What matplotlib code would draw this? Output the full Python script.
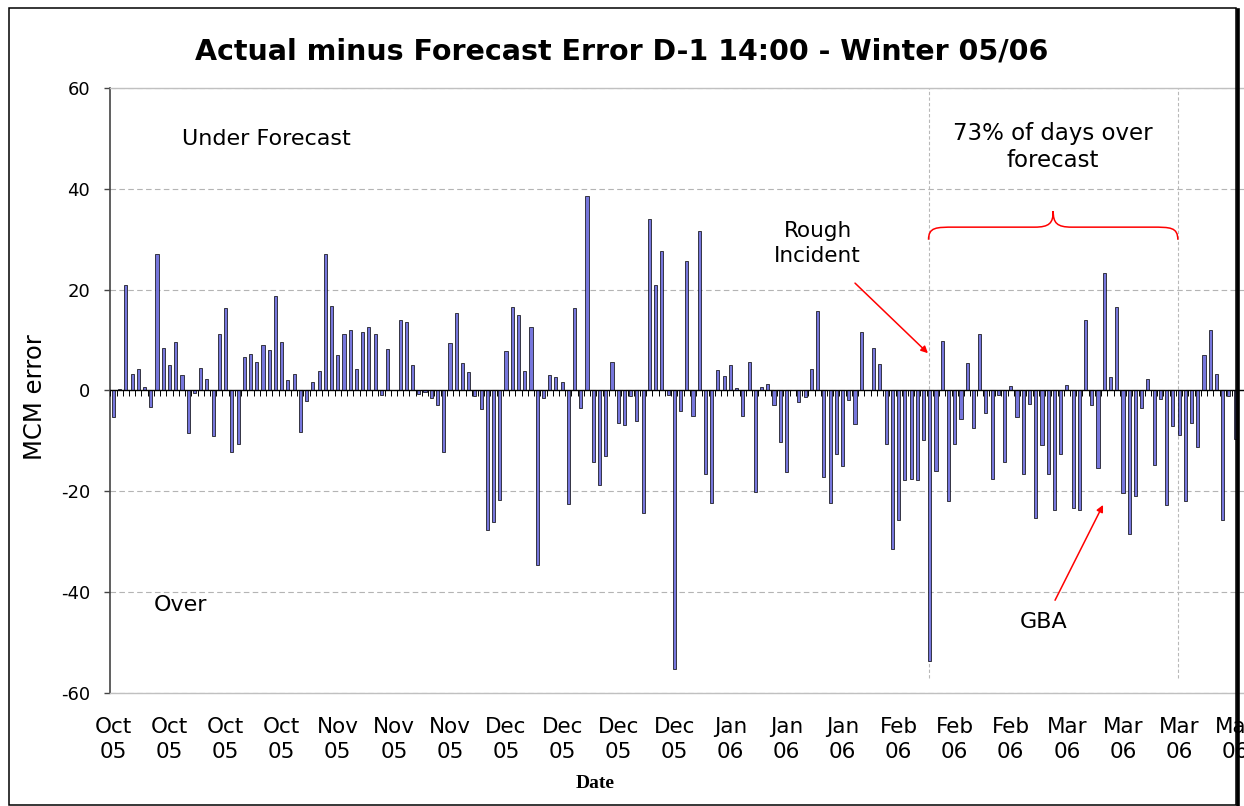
import numpy as np
import pandas as pd
import matplotlib
matplotlib.use("Agg")
import matplotlib.pyplot as plt
from matplotlib.path import Path
from matplotlib.patches import PathPatch, Rectangle
from matplotlib.lines import Line2D

plt.rcParams["axes.unicode_minus"] = False

# daily actual minus forecast (MCM), Oct 1 2005 onwards
start_date = "2005-10-01"
errors = [
    -5.2, 0.3, 20.9, 3.3, 4.2, 0.6, -3.3, 27.0, 8.4, 5.0,
    9.7, 3.1, -8.4, -0.5, 4.5, 2.3, -9.1, 11.2, 16.4, -12.1,
    -10.7, 6.6, 7.3, 5.7, 9.1, 8.0, 18.7, 9.7, 2.1, 3.3,
    -8.3, -2.0, 1.7, 3.9, 27.0, 16.8, 7.1, 11.3, 12.0, 4.3,
    11.7, 12.6, 11.2, -0.8, 8.3, 0.0, 13.9, 13.6, 5.0, -0.7,
    -0.3, -1.5, -2.8, -12.1, 9.5, 15.3, 5.4, 3.7, -1.1, -3.7,
    -27.6, -26.1, -21.7, 7.9, 16.5, 15.0, 3.9, 12.5, -34.6, -1.5,
    3.1, 2.7, 1.6, -22.5, 16.3, -3.4, 38.6, -14.1, -18.8, -13.0,
    5.7, -6.4, -6.9, -1.0, -6.0, -24.2, 34.1, 20.9, 27.7, -0.9,
    -55.3, -4.1, 25.6, -5.0, 31.6, -16.5, -22.3, 4.1, 2.9, 5.0,
    0.5, -5.1, 5.7, -20.2, 0.6, 1.2, -2.8, -10.2, -16.1, 0.0,
    -2.3, -1.3, 4.3, 15.8, -17.1, -22.3, -12.6, -15.0, -1.8, -6.6,
    11.7, 0.0, 8.4, 5.3, -10.7, -31.4, -25.7, -17.8, -17.6, -17.8,
    -9.9, -53.6, -15.9, 9.8, -21.9, -10.6, -5.7, 5.4, -7.5, 11.2,
    -4.5, -17.6, -0.9, -14.1, 0.9, -5.2, -16.5, -2.7, -25.2, -10.9,
    -16.5, -23.7, -12.5, 1.1, -23.3, -23.7, 13.9, -2.8, -15.3, 23.3,
    2.7, 16.5, -20.4, -28.5, -21.0, -3.5, 2.3, -14.8, -1.6, -22.7,
    -7.1, -8.8, -21.9, -6.4, -11.3, 7.1, 12.0, 3.3, -25.6, -1.1,
    -9.7,
]
label_step = 9
period_marks = [130.8, 170.8]   # dashed lines bounding the 73% period

days = np.arange(len(errors))
dates = pd.date_range(start_date, periods=len(errors), freq="D")
tick_days = days[::label_step]
tick_labels = [d.strftime("%b\n%y") for d in dates[::label_step]]

W, H = 1244, 806
fig = plt.figure(figsize=(W / 100, H / 100), dpi=100)
ax = fig.add_axes([110 / W, 1 - 693 / H, (1244.5 - 110) / W, (693 - 88) / H])

ax.bar(days, errors, width=0.5, color="#7676dc", edgecolor="black",
       linewidth=0.5, zorder=3)
ax.axhline(0, color="black", lw=1.0, zorder=4)
edges = np.arange(len(errors) + 1) - 0.5
ax.vlines(edges, -1.0, 0, color="black", lw=0.7, zorder=4)

ax.set_xlim(-0.55, 181.5)
ax.set_ylim(-60, 60)
ax.set_yticks(range(-60, 61, 20))
ax.yaxis.grid(True, color="#b4b4b4", linestyle=(0, (5, 3)), lw=0.8)
ax.set_axisbelow(True)

ax.vlines(period_marks, -57, 60, colors="#b8b8b8", linestyles=(0, (3, 2)),
          lw=0.8, zorder=1)

for s in ["top", "bottom"]:
    ax.spines[s].set_color("#c0c0c0")
    ax.spines[s].set_linewidth(1.0)
ax.spines["right"].set_visible(False)
ax.spines["left"].set_color("#444444")
ax.spines["left"].set_linewidth(1.2)

ax.tick_params(axis="y", length=4.3, width=1, color="#444444",
               labelsize=13, pad=10)
ax.set_xticks(tick_days, tick_labels)
ax.tick_params(axis="x", length=0, labelsize=15.5, pad=17)
for lbl in ax.get_xticklabels():
    lbl.set_linespacing(1.35)

fig.text(622 / W, 1 - 51 / H, "Actual minus Forecast Error D-1 14:00 - Winter 05/06",
         ha="center", va="center", fontsize=20.5, weight="bold")
fig.text(35 / W, 1 - 397 / H, "MCM error", rotation=90, ha="center",
         va="center", fontsize=17.5)
fig.text(595 / W, 1 - 783 / H, "Date", ha="center", va="center",
         fontsize=14, weight="bold", family="Liberation Serif")

ax.text(24.5, 49.9, "Under Forecast", ha="center", va="center", fontsize=16)
ax.text(10.8, -42.5, "Over", ha="center", va="center", fontsize=16)
ax.text(113.0, 29.2, "Rough\nIncident", ha="center", va="center",
        fontsize=15.5, linespacing=1.3)
ax.text(150.8, 48.3, "73% of days over\nforecast", ha="center", va="center",
        fontsize=16.5, linespacing=1.2)
ax.text(149.2, -45.9, "GBA", ha="center", va="center", fontsize=16)

arrow = dict(arrowstyle="-|>", color="red", lw=1.1, mutation_scale=10,
             shrinkA=0, shrinkB=0)
ax.annotate("", xy=(130.7, 7.4), xytext=(119.0, 21.3), arrowprops=arrow)
ax.annotate("", xy=(158.8, -22.7), xytext=(151.1, -41.6), arrowprops=arrow)

# curly brace over the period
x0, x1 = period_marks
xm = (x0 + x1) / 2
yb, yh, yp = 29.9, 32.4, 35.6
verts = [(x0, yb), (x0, yh), (x0 + 1.2, yh), (x0 + 4.2, yh),
         (xm - 3.0, yh),
         (xm - 0.6, yh), (xm, yh + 0.8), (xm, yp),
         (xm, yh + 0.8), (xm + 0.6, yh), (xm + 3.0, yh),
         (x1 - 4.2, yh),
         (x1 - 1.2, yh), (x1, yh), (x1, yb)]
codes = [Path.MOVETO, Path.CURVE4, Path.CURVE4, Path.CURVE4,
         Path.LINETO,
         Path.CURVE4, Path.CURVE4, Path.CURVE4,
         Path.CURVE4, Path.CURVE4, Path.CURVE4,
         Path.LINETO,
         Path.CURVE4, Path.CURVE4, Path.CURVE4]
ax.add_patch(PathPatch(Path(verts, codes), fill=False, edgecolor="red",
                       lw=1.1, zorder=5))

# chart border
fig.add_artist(Rectangle((9 / W, 1 - 805 / H), (1236 - 9) / W, (805 - 8) / H,
                         transform=fig.transFigure, fill=False,
                         edgecolor="black", lw=1.1))
fig.add_artist(Line2D([1237.5 / W, 1237.5 / W], [1 - 10 / H, 0],
                      transform=fig.transFigure, color="black", lw=2.6))

fig.savefig("out.png", dpi=100)
